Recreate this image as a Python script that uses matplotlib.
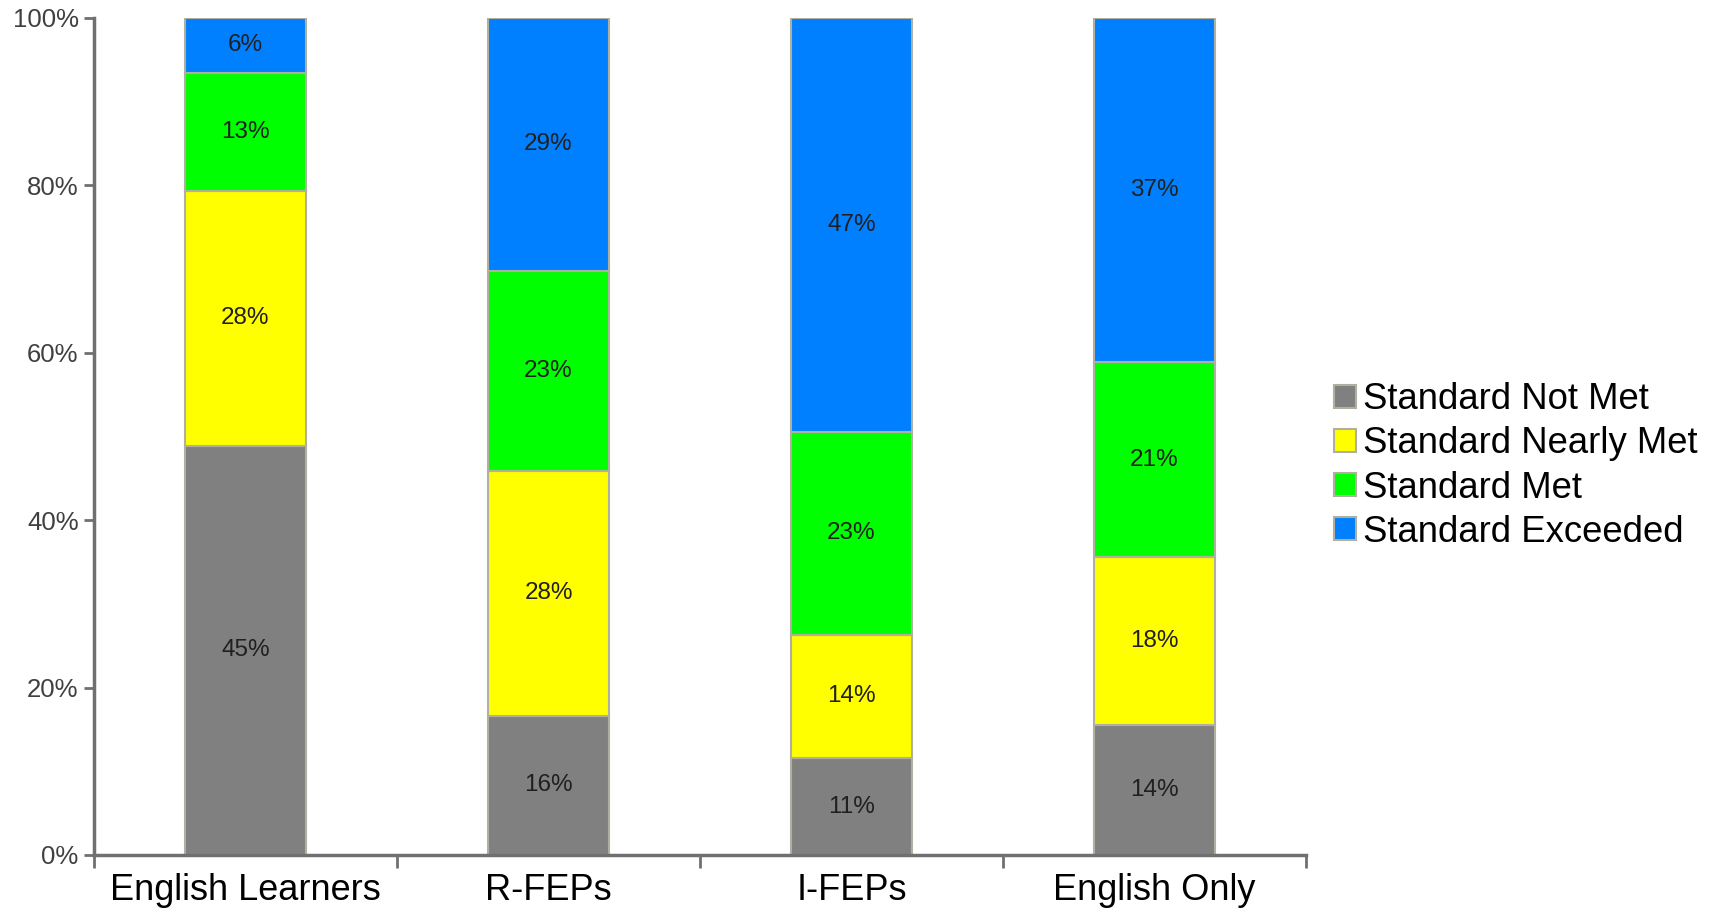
import numpy as np
import matplotlib.pyplot as plt

groups = ["English Learners", "R-FEPs", "I-FEPs", "English Only"]
levels = ["Standard Not Met", "Standard Nearly Met", "Standard Met", "Standard Exceeded"]
not_met = [45, 16, 11, 14]
nearly_met = [28, 28, 14, 18]
met = [13, 23, 23, 21]
exceeded = [6, 29, 47, 37]
colors = ["#808080", "#FFFF00", "#00FF00", "#0080FF"]


def main():
    plt.rcParams["font.family"] = ["Liberation Sans", "DejaVu Sans"]
    series = np.array([not_met, nearly_met, met, exceeded], dtype=float)
    # each bar is scaled to 100%, labels keep the raw percentages
    shares = series / series.sum(axis=0) * 100

    fig = plt.figure(figsize=(17.23, 9.10), dpi=100)
    ax = fig.add_axes([94 / 1723, (910 - 855) / 910, (1306 - 94) / 1723, (855 - 18) / 910])
    x = np.arange(len(groups))
    bottom = np.zeros(len(groups))
    for i, lab in enumerate(levels):
        bars = ax.bar(x, shares[i], bottom=bottom, width=0.4, color=colors[i],
                      edgecolor="#b0b0a0", linewidth=1.5, label=lab)
        for j, b in enumerate(bars):
            ax.text(b.get_x() + b.get_width() / 2, bottom[j] + shares[i][j] / 2,
                    f"{series[i][j]:.0f}%", ha="center", va="center",
                    fontsize=17.5, color="#202020")
        bottom += shares[i]

    ax.set_xlim(-0.5, len(groups) - 0.5)
    ax.set_ylim(0, 100)
    ax.set_yticks(np.arange(0, 101, 20))
    ax.set_yticklabels([f"{v}%" for v in range(0, 101, 20)], fontsize=18.5, color="#404040")
    ax.set_xticks(x)
    ax.set_xticklabels(groups, fontsize=26)
    ax.set_xticks(np.arange(-0.5, len(groups)), minor=True)
    ax.tick_params(axis="x", which="major", length=0, pad=13)
    ax.tick_params(axis="x", which="minor", length=9, width=2, color="#707070", direction="out")
    ax.tick_params(axis="y", length=7, width=2, color="#707070", pad=4)
    for s in ["top", "right"]:
        ax.spines[s].set_visible(False)
    for s in ["left", "bottom"]:
        ax.spines[s].set_color("#707070")
        ax.spines[s].set_linewidth(2.5)

    fig.legend(loc="center left", bbox_to_anchor=(1316 / 1723, 1 - 466 / 910), frameon=False,
               fontsize=26.3, handlelength=0.6, handleheight=0.6, handletextpad=0.2,
               labelspacing=0.25, borderpad=0)
    fig.savefig("out.png", dpi=100)


if __name__ == "__main__":
    main()
